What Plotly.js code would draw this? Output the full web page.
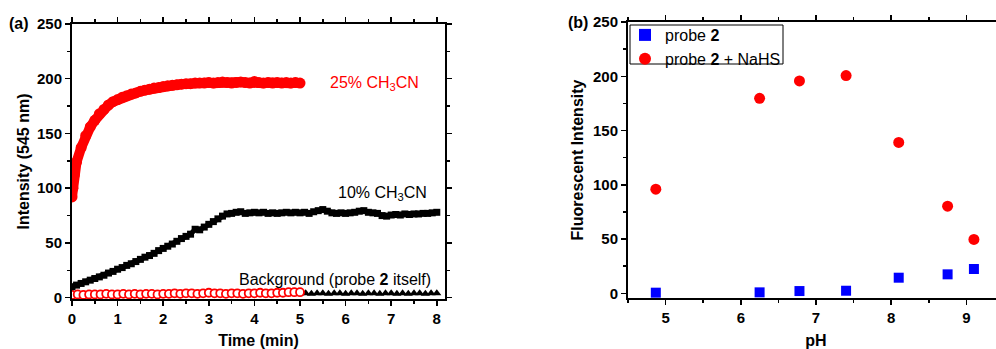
<!DOCTYPE html>
<html><head><meta charset="utf-8">
<script src="https://cdn.plot.ly/plotly-3.0.1.min.js"></script>
<style>html,body{margin:0;padding:0;overflow:hidden;background:#fff;}#chart{width:1004px;height:349px;}</style>
</head><body><div id="chart"></div>
<script>
// ---- Panel (a): kinetics ----
const timeRed = [0,0.02,0.05,0.1,0.2,0.3,0.4,0.5,0.6,0.7,0.8,0.9,1.0,1.1,1.2,1.3,1.4,1.5,1.6,1.7,1.8,1.9,2.0,2.1,2.2,2.3,2.4,2.5,2.6,2.7,2.8,2.9,3.0,3.1,3.2,3.3,3.4,3.5,3.6,3.7,3.8,3.9,4.0,4.1,4.2,4.3,4.4,4.5,4.6,4.7,4.8,4.9,5.0];
const int25 = [92,100,112,124,137,148,156,162,168,172,176,179,181,183,184.5,186,187,188.5,189.5,190.5,191.5,192,193,193.5,194,194.5,195,195.5,195.5,196,196,196,196.5,196,196.5,197,196.5,196,196.5,197,196.5,196,197.5,196.5,196,196.5,196,196.5,196,196.5,196,196.5,196];

const timeBlack = [0,0.1,0.2,0.3,0.4,0.5,0.6,0.7,0.8,0.9,1.0,1.1,1.2,1.3,1.4,1.5,1.6,1.7,1.8,1.9,2.0,2.1,2.2,2.3,2.4,2.5,2.6,2.7,2.8,2.9,3.0,3.1,3.2,3.3,3.4,3.5,3.6,3.7,3.8,3.9,4.0,4.1,4.2,4.3,4.4,4.5,4.6,4.7,4.8,4.9,5.0,5.1,5.2,5.3,5.4,5.5,5.6,5.7,5.8,5.9,6.0,6.1,6.2,6.3,6.4,6.5,6.6,6.7,6.8,6.9,7.0,7.1,7.2,7.3,7.4,7.5,7.6,7.7,7.8,7.9,8.0];
const int10 = [10,11.5,13,14.5,16,17.5,19,20.5,22.5,24,26,27.5,29.5,31,33,35,37,38.5,40.5,43,45,47,49,51.5,54,56,58,62.5,62,64.5,67,69.5,72,74.5,76.5,77,78,78.5,77,77.5,78,77.5,78,77,77.5,77,77.5,78,77.5,78,77.5,78,77,78.5,79.5,80.5,79,77.5,77,77.5,77,77.5,78,79,79.5,78,77.5,77,75,74.5,75.5,76,75.5,76.5,76,76.5,76.5,77,77,77.5,78];

const timeBgCircle = [0,0.125,0.25,0.375,0.5,0.625,0.75,0.875,1.0,1.125,1.25,1.375,1.5,1.625,1.75,1.875,2.0,2.125,2.25,2.375,2.5,2.625,2.75,2.875,3.0,3.125,3.25,3.375,3.5,3.625,3.75,3.875,4.0,4.125,4.25,4.375,4.5,4.625,4.75,4.875,5.0];
const intBgCircle = [2.5,3,2.5,3,3,3,3.5,3,3,3.5,3,3.5,3,3.5,3.5,3,3.5,3.5,4,3.5,4,4,3.5,4,4.5,4,4,3.5,4,4,3.5,4,4,4.5,4,4,4.5,4.5,5,5,5];
const timeBgTri = [5.0,5.125,5.25,5.375,5.5,5.625,5.75,5.875,6.0,6.125,6.25,6.375,6.5,6.625,6.75,6.875,7.0,7.125,7.25,7.375,7.5,7.625,7.75,7.875,8.0];
const intBgTri = [4,4,3.5,4,4,3.5,4,4,3.5,4,4,3.5,4,4,3.5,4,4,3.5,4,3.5,4,4,3.5,4,4];

// ---- Panel (b): pH dependence ----
const pH = [4.87,6.25,6.78,7.40,8.10,8.75,9.10];
const probe2 = [0.6,0.9,2.1,2.4,14.4,17.5,22.4];
const probe2NaHS = [96,179.7,195.7,200.6,139,80.3,49.7];

const FONT = 'Liberation Sans, Arial, sans-serif';
const W = 1004, H = 349;
const px = v => v / W, py = v => (H - v) / H;

const traces = [
  {x: timeBgTri, y: intBgTri, xaxis:'x', yaxis:'y', mode:'markers', showlegend:false,
   marker:{symbol:'triangle-up', size:8, color:'black'}},
  {x: timeBgCircle, y: intBgCircle, xaxis:'x', yaxis:'y', mode:'markers', showlegend:false,
   marker:{symbol:'circle', size:8, color:'white', line:{color:'red', width:1.8}}},
  {x: timeBlack, y: int10, xaxis:'x', yaxis:'y', mode:'lines+markers', showlegend:false,
   line:{color:'black', width:5}, marker:{symbol:'square', size:7, color:'black'}},
  {x: timeRed, y: int25, xaxis:'x', yaxis:'y', mode:'lines+markers', showlegend:false,
   line:{color:'red', width:10}, marker:{symbol:'circle', size:11, color:'red'}},
  {x: pH, y: probe2, xaxis:'x2', yaxis:'y2', mode:'markers', name:'probe <b>2</b>',
   marker:{symbol:'square', size:10, color:'#0000ff'}},
  {x: pH, y: probe2NaHS, xaxis:'x2', yaxis:'y2', mode:'markers', name:'probe <b>2</b> + NaHS',
   marker:{symbol:'circle', size:11, color:'#ff0000'}}
];

const tickFont = {family: FONT, size: 15, color:'black', weight:'bold'};
const titleFont = {family: FONT, size: 16, color:'black', weight:'bold'};
function ax(extra){
  return Object.assign({
    showline:true, linecolor:'black', linewidth:2, mirror:'ticks',
    ticks:'outside', ticklen:5, tickwidth:1.5, tickcolor:'black',
    showgrid:false, zeroline:false, tickfont: tickFont, fixedrange:true
  }, extra);
}
const minorX = {dtick:0.5, ticklen:3, tickwidth:1.5, tickcolor:'black', ticks:'outside'};
const minorY = {dtick:25, ticklen:3, tickwidth:1.5, tickcolor:'black', ticks:'outside'};

const layout = {
  width: W, height: H,
  margin:{l:0,r:0,t:0,b:0},
  paper_bgcolor:'white', plot_bgcolor:'white',
  font:{family: FONT, color:'black'},
  xaxis: ax({domain:[px(72), px(445)], range:[0, 8.18], anchor:'y', dtick:1, tick0:0, minor:minorX,
    title:{text:'Time (min)', font:titleFont, standoff:14}}),
  yaxis: ax({domain:[py(299), py(24)], range:[-1.2, 250], anchor:'x', dtick:50, tick0:0, minor:minorY,
    title:{text:'Intensity (545 nm)', font:titleFont, standoff:3}}),
  xaxis2: ax({domain:[px(628), 1], range:[4.5, 9.5], anchor:'y2', dtick:1, tick0:0, minor:minorX,
    title:{text:'pH', font:titleFont, standoff:12}}),
  yaxis2: ax({domain:[py(298), py(22)], range:[-4.3, 250], anchor:'x2', dtick:50, tick0:0, minor:minorY,
    title:{text:'Fluorescent Intensity', font:titleFont, standoff:5}}),
  legend:{x: px(625), y: py(18), xanchor:'left', yanchor:'top', xref:'paper', yref:'paper',
    bgcolor:'rgba(0,0,0,0)', borderwidth:0, itemwidth:30,
    font:{family: FONT, size:16, color:'black'}, tracegroupgap:0, itemsizing:'constant'},
  showlegend:true,
  shapes:[
    {type:'rect', xref:'paper', yref:'paper', x0:px(630), x1:px(783), y0:py(64), y1:py(25),
     line:{color:'black', width:1}, fillcolor:'white', layer:'above'}
  ],
  annotations:[
    {xref:'x', yref:'y', x:6.64, y:196, text:'25% CH<sub>3</sub>CN', showarrow:false,
     font:{family: FONT, size:16, color:'#ff0000'}},
    {xref:'x', yref:'y', x:6.82, y:95, text:'10% CH<sub>3</sub>CN', showarrow:false,
     font:{family: FONT, size:16, color:'black'}},
    {xref:'x', yref:'y', x:5.77, y:17, text:'Background (probe <b>2</b> itself)', showarrow:false,
     font:{family: FONT, size:16, color:'black'}},
    {xref:'paper', yref:'paper', x:px(7), y:py(24), xanchor:'left', yanchor:'middle', text:'(a)', showarrow:false,
     font:{family: FONT, size:16, color:'black', weight:'bold'}},
    {xref:'paper', yref:'paper', x:px(566), y:py(23), xanchor:'left', yanchor:'middle', text:'(b)', showarrow:false,
     font:{family: FONT, size:16, color:'black', weight:'bold'}}
  ]
};

Plotly.newPlot('chart', traces, layout, {displayModeBar:false, staticPlot:true});
</script></body></html>
